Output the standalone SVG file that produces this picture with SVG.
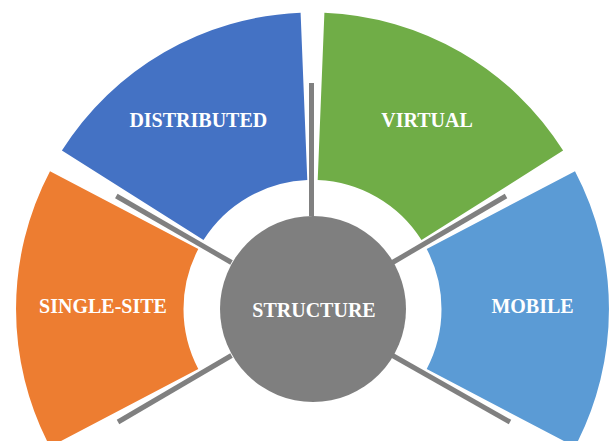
<svg xmlns="http://www.w3.org/2000/svg" width="611" height="441" viewBox="0 0 611 441">
  <style>
    .label { font-family: "Liberation Serif", "Times New Roman", serif; font-weight: bold; font-size: 20px; fill: #FFFFFF; text-anchor: middle; }
    .spoke { stroke: #808080; stroke-width: 5; fill: none; }
  </style>
  <rect width="611" height="441" fill="#FFFFFF"/>

  <!-- ring segments around the hub -->
  <g id="single-site">
    <path d="M 50.0 171.2 A 296.5 296.5 0 0 0 50.0 446.8 L 198.3 369.0 A 129 129 0 0 1 198.3 249.0 Z" fill="#ED7D31"/>
    <text class="label" x="103" y="313.3">SINGLE-SITE</text>
  </g>
  <g id="distributed">
    <path d="M 61.9 150.6 A 296.5 296.5 0 0 1 300.6 12.7 L 307.3 180.1 A 129 129 0 0 0 203.5 240.1 Z" fill="#4472C4"/>
    <text class="label" x="198.3" y="127.3">DISTRIBUTED</text>
  </g>
  <g id="virtual">
    <path d="M 324.4 12.7 A 296.5 296.5 0 0 1 563.1 150.6 L 421.5 240.1 A 129 129 0 0 0 317.7 180.1 Z" fill="#70AD47"/>
    <text class="label" x="427" y="127.3">VIRTUAL</text>
  </g>
  <g id="mobile">
    <path d="M 575.0 171.2 A 296.5 296.5 0 0 1 575.0 446.8 L 426.7 369.0 A 129 129 0 0 0 426.7 249.0 Z" fill="#5B9BD5"/>
    <text class="label" x="532.5" y="313.3">MOBILE</text>
  </g>

  <!-- spokes separating the segments -->
  <g id="connectors">
    <line class="spoke" x1="311.5" y1="216" x2="311.5" y2="83"/>
    <line class="spoke" x1="231.5" y1="262.5" x2="116.3" y2="196"/>
    <line class="spoke" x1="231.5" y1="355.5" x2="118" y2="422"/>
    <line class="spoke" x1="392.5" y1="262.5" x2="506" y2="196"/>
    <line class="spoke" x1="392.5" y1="355.5" x2="510" y2="422"/>
  </g>

  <g id="structure">
    <circle cx="313" cy="309" r="93" fill="#7F7F7F"/>
    <text class="label" x="314" y="317.3">STRUCTURE</text>
  </g>
</svg>
